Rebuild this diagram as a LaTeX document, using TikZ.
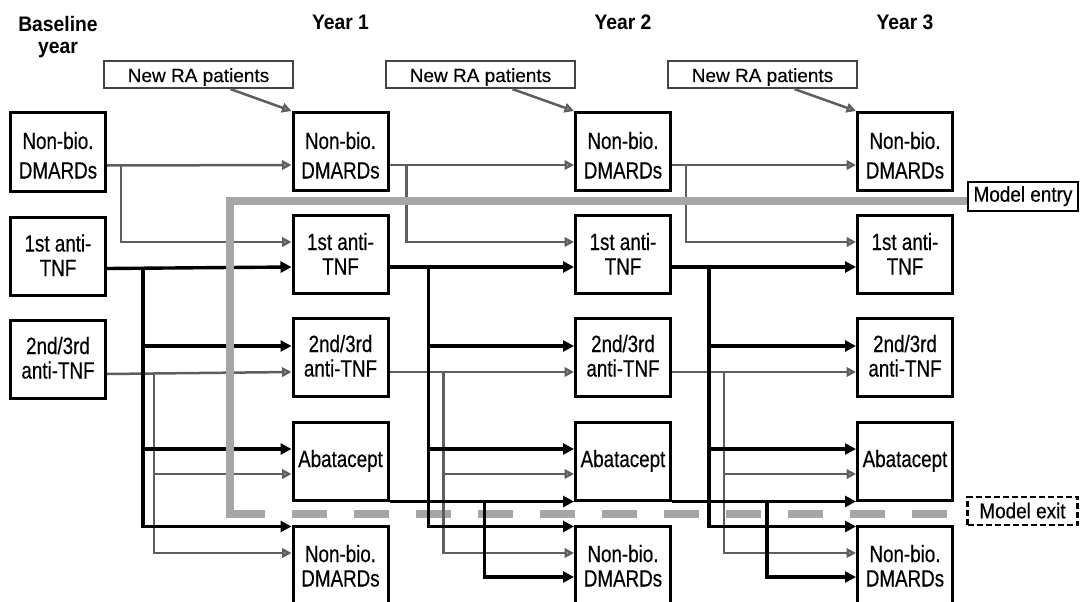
\documentclass[tikz,border=0pt]{standalone}
\usepackage{fontspec}
\setmainfont{Liberation Sans}
\newfontfamily\nrafont[FakeBold=0.3]{Liberation Sans}
\newfontfamily\bxfont[FakeStretch=0.8,FakeBold=0.4]{Liberation Sans}
\newfontfamily\hdfont[FakeStretch=0.92]{Liberation Sans}
\newfontfamily\mdfont[FakeStretch=0.88,FakeBold=0.4]{Liberation Sans}
\usetikzlibrary{arrows.meta,calc}
\newcommand\boxtext[2]{\raisebox{#1}[0pt][0pt]{\begin{tabular}[t]{@{}c@{}}#2\end{tabular}}}
\definecolor{bandgray}{HTML}{A6A6A6}
\definecolor{arrgray}{HTML}{5E5E5E}
\definecolor{headgray}{HTML}{B8B8B8}
\definecolor{nragray}{HTML}{444444}
\tikzset{
  bx/.style={draw, line width=3pt, minimum width=95pt, minimum height=78pt,
    inner sep=0pt, fill=white, font=\bxfont\fontsize{23.5}{24.5}\selectfont},
  nrabox/.style={draw=nragray, line width=2.2pt, minimum width=189pt, minimum height=27pt,
    inner sep=0pt, font=\nrafont\fontsize{19}{21}\selectfont, text height=15pt, text depth=0pt},
  mdbox/.style={draw, line width=2.2pt, minimum width=110pt, inner sep=0pt,
    font=\mdfont\fontsize{21.5}{23}\selectfont},
  hd/.style={font=\hdfont\bfseries\fontsize{21}{22}\selectfont, inner sep=0pt, anchor=base},
  blk/.style={line width=3.4pt, -{Triangle[length=11pt,width=11pt]}},
  gar/.style={draw=arrgray, line width=2.5pt, -{Triangle[length=9.5pt,width=9.5pt,fill=headgray]}},
  bandline/.style={draw=bandgray, line width=8pt, line cap=butt, line join=miter}
}
\begin{document}
\begin{tikzpicture}[x=1pt,y=-1pt]
\useasboundingbox (0,0) rectangle (1080,602);

% headers
\node[hd] (hb) at (58,32) {\begin{tabular}[t]{@{}c@{}}Baseline\\year\end{tabular}};
\node[hd] (h1) at (340.5,30) {Year 1};
\node[hd] (h2) at (623,30) {Year 2};
\node[hd] (h3) at (905,30) {Year 3};

% new patients
\node[nrabox] (r1) at (198.5,74.5) {New RA patients};
\node[nrabox] (r2) at (480.5,74.5) {New RA patients};
\node[nrabox] (r3) at (762.5,74.5) {New RA patients};

% baseline column
\node[bx] (n0-0) at (58,152) {\boxtext{3pt}{Non-bio.\\[5pt]DMARDs}};
\node[bx] (n0-1) at (58,256) {\boxtext{4.5pt}{1st anti-\\TNF}};
\node[bx] (n0-2) at (58,359) {\boxtext{5pt}{2nd/3rd\\anti-TNF}};

% year columns
\foreach \c/\x in {1/340.5,2/623,3/905}{
  \node[bx] (n\c-0) at (\x,151.5) {\boxtext{2.5pt}{Non-bio.\\[5pt]DMARDs}};
  \node[bx] (n\c-1) at (\x,254.5) {\boxtext{4.5pt}{1st anti-\\TNF}};
  \node[bx] (n\c-2) at (\x,357) {\boxtext{5pt}{2nd/3rd\\anti-TNF}};
  \node[bx] (n\c-3) at (\x,461) {\boxtext{-6pt}{Abatacept}};
  \node[bx] (n\c-4) at (\x,565) {\boxtext{3pt}{Non-bio.\\DMARDs}};
}

% model entry / exit
\node[mdbox, minimum height=29pt, text height=10.4pt, text depth=0pt] (me) at (1023,196.5) {Model entry};
\node[mdbox, minimum height=28pt, text height=14.6pt, text depth=0pt, line width=2.2pt,
      dash pattern=on 6pt off 3pt] (mx) at (1022.5,511) {Model exit};

% model exit dashed band (behind connectors)
\coordinate (bx) at (230,514);
\draw[bandline, dash pattern=on 35pt off 27pt] (bx) -- ($(mx.west)+(0,3)$);

% new patients arrows
\foreach \t in {1,2,3}{
  \draw[gar] ($(r\t.south)+(32,0)$) -- (n\t-0.north west);
}

% grey connectors
\foreach \s/\t/\a/\c in {0/1/14/47, 1/2/17/54, 2/3/14/52}{
  \draw[gar] ($(n\s-0.east)+(0,13.5)$) -- ($(n\t-0.west)+(0,13.5)$);
  \coordinate (g\s) at ($(n\s-0.east)+(\a,13.5)$);
  \draw[gar] (g\s) |- ($(n\t-1.west)+(0,-12.5)$);
  \draw[gar] ($(n\s-2.east)+(0,15)$) -- ($(n\t-2.west)+(0,15)$);
  \coordinate (h\s) at ($(n\s-2.east)+(\c,15)$);
  \draw[gar] (h\s) |- ($(n\t-3.west)+(0,13)$);
  \draw[gar] (h\s) |- ($(n\t-4.west)+(0,-12)$);
}

% black connectors
\foreach \s/\t/\b in {0/1/36, 1/2/39, 2/3/37}{
  \draw[blk] ($(n\s-1.east)+(0,12.5)$) -- ($(n\t-1.west)+(0,12.5)$);
  \coordinate (k\s) at ($(n\s-1.east)+(\b,12.5)$);
  \draw[blk] (k\s) |- ($(n\t-2.west)+(0,-11)$);
  \draw[blk] (k\s) |- ($(n\t-3.west)+(0,-12)$);
  \draw[blk] (k\s) |- ($(n\t-4.north west)+(0,2)$);
}
\foreach \s/\t in {1/2, 2/3}{
  \draw[blk] (n\s-3.south east) -- (n\t-3.south west);
  \coordinate (m\s) at ($(n\s-3.south east)+(95,0)$);
  \draw[blk] (m\s) |- ($(n\t-4.west)+(0,12)$);
}

% model entry band (on top)
\coordinate (bc) at (230,518);
\draw[bandline] ($(me.west)+(0,4.5)$) -| (bc);
\end{tikzpicture}
\end{document}
